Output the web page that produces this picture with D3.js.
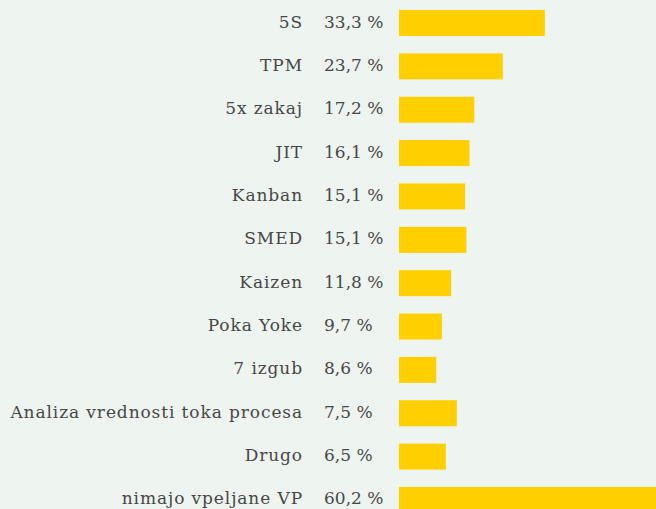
<!DOCTYPE html>
<html>
<head>
<meta charset="utf-8">
<script src="https://cdn.jsdelivr.net/npm/d3@7"></script>
<style>
    body { margin: 0; background: #eef5f0; overflow: hidden; }
</style>
</head>
<body>
<div id="canvas"></div>
<script>
"use strict"

let svgWidth = 656;
let svgHeight = 509;

// categories, printed percentage labels, and bar lengths
let categories = ["5S", "TPM", "5x zakaj", "JIT", "Kanban", "SMED", "Kaizen",
    "Poka Yoke", "7 izgub", "Analiza vrednosti toka procesa", "Drugo", "nimajo vpeljane VP"];
let valueLabels = ["33,3 %", "23,7 %", "17,2 %", "16,1 %", "15,1 %", "15,1 %", "11,8 %",
    "9,7 %", "8,6 %", "7,5 %", "6,5 %", "60,2 %"];
let barValues = [33.3, 23.7, 17.2, 16.1, 15.1, 15.4, 11.9, 9.8, 8.5, 13.2, 10.7, 60.2];

let barColor = "#ffcf00";
let textColor = "#474747";
let fontFamily = "'DejaVu Serif', serif";

let svg = d3.select("#canvas")
    .append("svg")
    .attr("width", svgWidth)
    .attr("height", svgHeight);

svg.append("rect")
    .attr("width", svgWidth)
    .attr("height", svgHeight)
    .attr("fill", "#eef5f0");

let step = 43.36;
let yScale = d3.scaleBand()
    .domain(categories)
    .range([10 - 0.2 * step, 10 - 0.2 * step + 12 * step])
    .paddingInner(0.4)
    .paddingOuter(0.2);

let xScale = d3.scaleLinear()
    .domain([0, 10])
    .range([399, 399 + 43.8]);

let rows = categories.map(function(c, i) {
    return {name: c, label: valueLabels[i], value: barValues[i]};
});

svg.selectAll("rect.bar")
    .data(rows)
    .join("rect")
    .attr("class", "bar")
    .attr("x", xScale(0))
    .attr("y", function(d) { return yScale(d.name); })
    .attr("width", function(d) { return xScale(d.value) - xScale(0); })
    .attr("height", yScale.bandwidth())
    .attr("fill", barColor);

// category names, right aligned
svg.selectAll("text.cat")
    .data(rows)
    .join("text")
    .attr("class", "cat")
    .attr("x", 303)
    .attr("y", function(d) { return yScale(d.name) + yScale.bandwidth() / 2; })
    .attr("text-anchor", "end")
    .attr("dominant-baseline", "middle")
    .attr("font-family", fontFamily)
    .attr("font-size", 17)
    .attr("letter-spacing", 0.9)
    .attr("fill", textColor)
    .text(function(d) { return d.name; });

// percentage labels
svg.selectAll("text.val")
    .data(rows)
    .join("text")
    .attr("class", "val")
    .attr("x", 324)
    .attr("y", function(d) { return yScale(d.name) + yScale.bandwidth() / 2; })
    .attr("text-anchor", "start")
    .attr("dominant-baseline", "middle")
    .attr("font-family", fontFamily)
    .attr("font-size", 17)
    .attr("fill", textColor)
    .text(function(d) { return d.label; });
</script>
</body>
</html>
